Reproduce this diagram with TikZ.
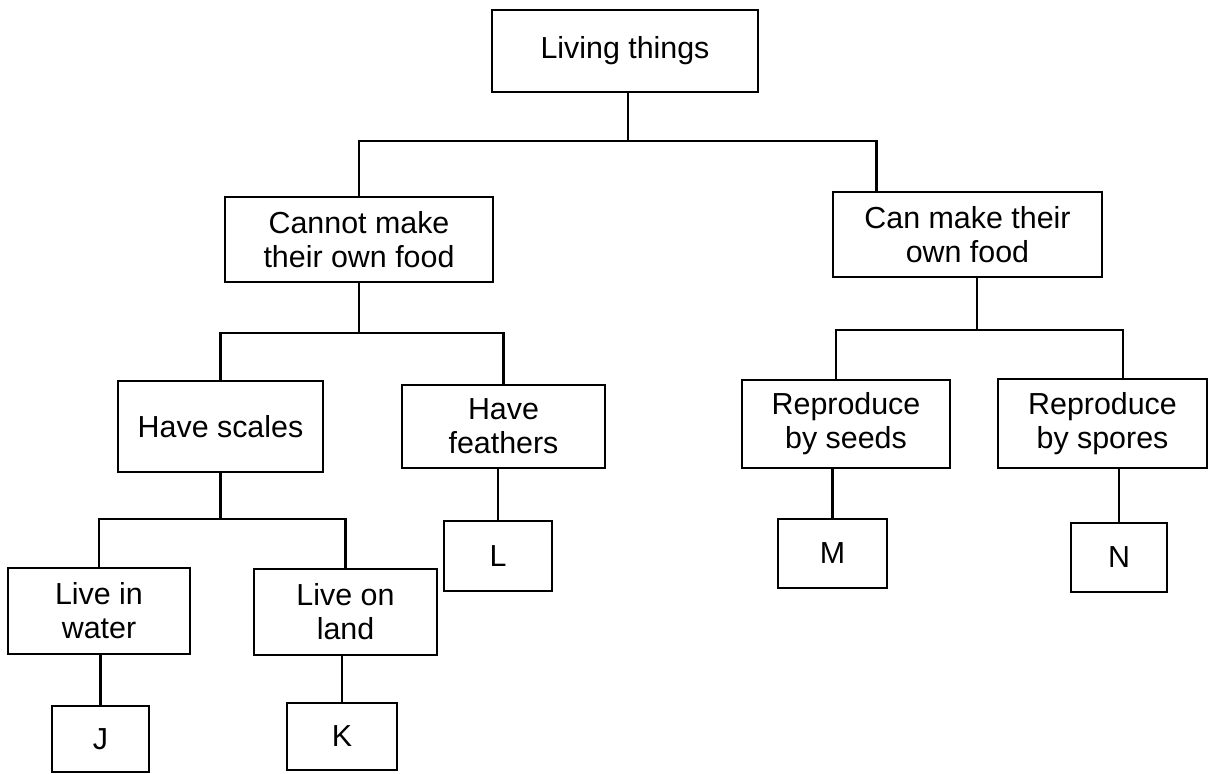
\documentclass[tikz,border=0pt]{standalone}
\usepackage{fontspec}
\setmainfont{Liberation Sans}
\usepackage{tikz}
\usetikzlibrary{shapes,arrows}
\usetikzlibrary{positioning}
\tikzstyle{link} = [line width=1.2pt]
\tikzstyle{box} = [
    rectangle, text centered, align=center, inner sep=0pt,
    draw=black, line width=1.2pt, font=\fontsize{15.2}{17}\selectfont]

\begin{document}
\begin{tikzpicture}[x=0.5pt,y=-0.5pt]
\useasboundingbox (0,0) rectangle (1210,774);

\node (living) [box, minimum width=133pt, minimum height=41pt] at (625,51) {Living things};

\node (cannot) [box, minimum width=134pt, minimum height=42.5pt] at (359,239.5) {
    Cannot make \\ their own food
};
\node (can) [box, minimum width=134.5pt, minimum height=42.5pt] at (967.5,234.5) {
    Can make their \\ own food
};

\node (scales) [box, minimum width=102.5pt, minimum height=45.5pt] at (220.5,426.5) {Have scales};
\node (feathers) [box, minimum width=101.5pt, minimum height=41.5pt] at (503.5,426.5) {
    Have \\ feathers
};

\node (seeds) [box, minimum width=104pt, minimum height=44pt] at (846,424) {
    Reproduce \\ by seeds
};
\node (spores) [box, minimum width=104.5pt, minimum height=44.5pt] at (1102.5,423.5) {
    Reproduce \\ by spores
};

\node (water) [box, minimum width=91pt, minimum height=43pt] at (99,611) {
    Live in \\ water
};
\node (land) [box, minimum width=91.5pt, minimum height=43pt] at (345.5,612) {
    Live on \\ land
};

\node (j) [box, minimum width=48.5pt, minimum height=33pt] at (100.5,739) {J};
\node (k) [box, minimum width=55pt, minimum height=33.5pt] at (342,736.5) {K};
\node (l) [box, minimum width=54pt, minimum height=35pt] at (498,556) {L};
\node (m) [box, minimum width=54.5pt, minimum height=34.5pt] at (832.5,553.5) {M};
\node (n) [box, minimum width=48pt, minimum height=34.5pt] at (1119,557.5) {N};

\draw [link] ([xshift=1.5pt]living.south) -- ++(0,48) -| (cannot.north);
\draw [link] ([xshift=1.5pt]living.south) -- ++(0,48) -| ([xshift=-45.5pt]can.north);

\draw [link] (cannot.south) -- ++(0,50) -| (scales.north);
\draw [link] (cannot.south) -- ++(0,50) -| (feathers.north);

\draw [link] ([xshift=4.75pt]can.south) -- ++(0,52) -| ([xshift=-5pt]seeds.north);
\draw [link] ([xshift=4.75pt]can.south) -- ++(0,52) -| ([xshift=10.25pt]spores.north);

\draw [link] (scales.south) -- ++(0,46) -| (water.north);
\draw [link] (scales.south) -- ++(0,46) -| (land.north);

\draw [link] (j.north) -- (j.north |- water.south);
\draw [link] (k.north) -- (k.north |- land.south);
\draw [link] (l.north) -- (l.north |- feathers.south);
\draw [link] (m.north) -- (m.north |- seeds.south);
\draw [link] (n.north) -- (n.north |- spores.south);
\end{tikzpicture}
\end{document}
